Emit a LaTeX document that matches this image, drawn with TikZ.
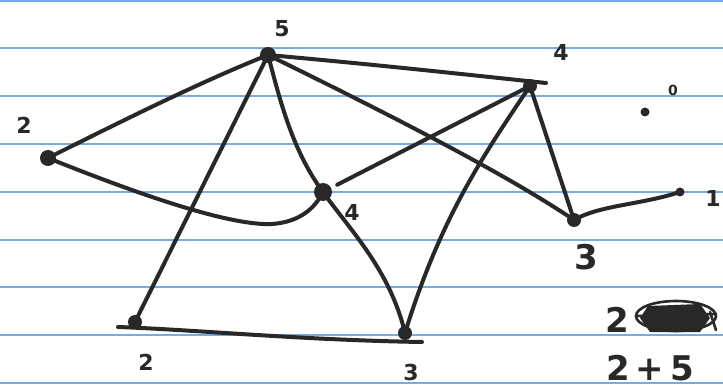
\documentclass[tikz,border=0pt]{standalone}
\usepackage{fontspec}
\setmainfont{DejaVu Sans}
\definecolor{ink}{RGB}{40,40,40}
\definecolor{rule}{RGB}{120,170,230}
\begin{document}
\begin{tikzpicture}[x=1pt,y=-1pt,
  ruling/.style={draw=rule,line width=1.2pt},
  edge/.style={draw=ink,line width=4pt,line cap=round},
  vdot/.style={circle,fill=ink,inner sep=0pt,minimum size=16pt},
  sdot/.style={circle,fill=ink,inner sep=0pt,minimum size=9pt},
  lab/.style={text=ink,font=\fontsize{22}{24}\selectfont\bfseries},
  biglab/.style={text=ink,font=\fontsize{34}{36}\selectfont\bfseries}]
\useasboundingbox (0,0) rectangle (723,390);
\fill[white] (0,0) rectangle (723,390);
\foreach \yy in {1,48,96,144,192,240,287,335,383} \draw[ruling] (0,\yy) -- (723,\yy);
% vertices
\node[vdot] (v5) at (268,55) {};
\node[vdot] (v2a) at (48,158) {};
\node[vdot,minimum size=18pt] (v4m) at (323,192) {};
\node[vdot,minimum size=14pt] (v4t) at (530,86) {};
\node[vdot,minimum size=14pt] (v3r) at (574,220) {};
\node[sdot] (v1) at (680,192) {};
\node[sdot] (v0) at (645,112) {};
\node[vdot,minimum size=14pt] (v2b) at (135,322) {};
\node[vdot,minimum size=14pt] (v3b) at (405,333) {};
\coordinate (e4t) at (546,83);
\coordinate (b2l) at (118,327);
\coordinate (b3r) at (422,342);
% edges
\draw[edge] (v2a.center) .. controls (120,122) and (200,82) .. (v5.center);
\draw[edge] (v5.center) .. controls (380,65) and (470,75) .. (e4t);
\draw[edge] (v5.center) -- (v2b.center);
\draw[edge] (v5.center) .. controls (280,100) and (292,150) .. (v4m.center);
\draw[edge] (v5.center) .. controls (370,105) and (500,170) .. (v3r.center);
\draw[edge] (v2a.center) .. controls (140,195) and (230,226) .. (272,224) .. controls (300,222) and (315,208) .. (v4m.center);
\draw[edge,shorten <=16pt] (v4m.center) -- (v4t.center);
\draw[edge] (v4m.center) .. controls (350,230) and (390,270) .. (v3b.center);
\draw[edge] (v4t.center) .. controls (480,160) and (440,220) .. (v3b.center);
\draw[edge] (v4t.center) -- (v3r.center);
\draw[edge] (v3r.center) .. controls (600,205) and (640,205) .. (v1.center);
\draw[edge] (b2l) .. controls (200,330) and (300,340) .. (b3r);
% labels
\node[lab] (l5) at (282,29) {5};
\node[lab] (l2a) at (24,125) {2};
\node[lab] (l4m) at (352,212) {4};
\node[lab] (l4t) at (561,52) {4};
\node[biglab] (l3r) at (586,257) {3};
\node[lab] (l1) at (713,198) {1};
\node[lab,font=\fontsize{14}{16}\selectfont\bfseries] (l0) at (673,90) {0};
\node[lab] (l2b) at (146,362) {2};
\node[lab] (l3b) at (411,372) {3};
\node[biglab] (n2) at (617,320) {2};
\node[biglab,anchor=west,inner sep=0pt] (n25) at (606,368) {2\hspace{6pt}+\hspace{6pt}5};
% crossed-out scribble
\fill[ink] (648,306) -- (700,304) -- (710,318) -- (700,332) -- (650,332) -- (640,318) -- cycle;
\draw[edge,line width=2.6pt] (676,316) ellipse (40 and 15);
\draw[edge,line width=2.6pt] (636,316) -- (716,314);
\draw[edge,line width=2.6pt] (710,312) -- (716,330);
\end{tikzpicture}
\end{document}
